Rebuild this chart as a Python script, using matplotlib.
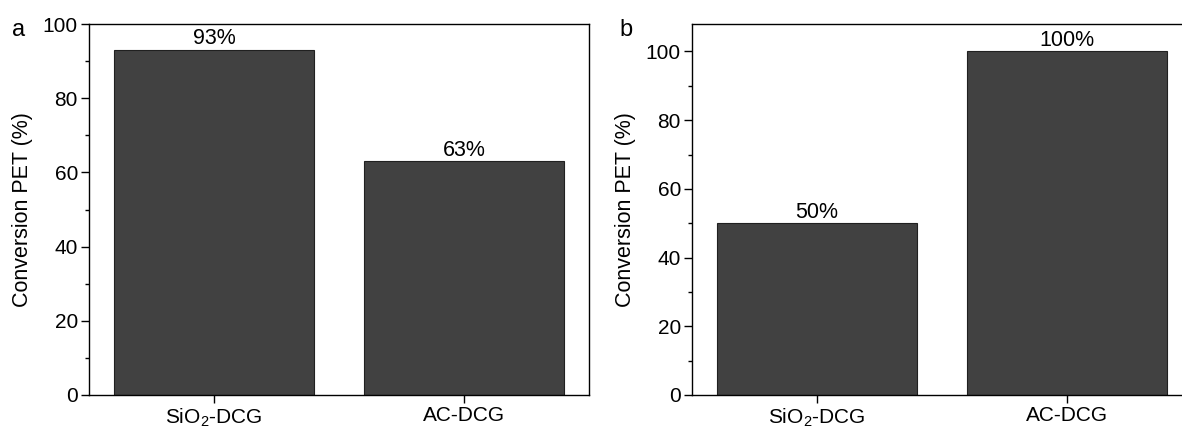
import numpy as np
import matplotlib.pyplot as plt
from matplotlib.ticker import MultipleLocator

plt.rcParams['font.family'] = ['Liberation Sans', 'DejaVu Sans']
plt.rcParams['font.size'] = 15

# data
Catalysts = [r'SiO$_\mathregular{2}$-DCG', 'AC-DCG']
ConversionA = [93, 63]
ConversionB = [50, 100]
LabelsA = ['93%', '63%']
LabelsB = ['50%', '100%']

Figure = plt.figure(figsize=(11.82, 4.28), dpi=100)
AxesA = Figure.add_axes([89/1182, 1-395/428, 500/1182, 371/428])
AxesB = Figure.add_axes([692/1182, 1-395/428, 500/1182, 371/428])

def draw_panel(Axes, Values, Labels, YMax, Letter, LetterX):
    Pos = np.arange(len(Values))
    Bars = Axes.bar(Pos, Values, width=0.8, color='#414141', edgecolor='#202020', linewidth=0.8)
    for Bar, Text in zip(Bars, Labels):
        Axes.annotate(Text, (Bar.get_x()+Bar.get_width()/2, Bar.get_height()),
                      xytext=(0, 0.5), textcoords='offset points', ha='center', va='bottom', fontsize=15.5)
    Axes.set_xlim(-0.5, 1.5)
    Axes.set_ylim(0, YMax)
    Axes.set_xticks(Pos)
    Axes.set_xticklabels(Catalysts, fontsize=15)
    Axes.yaxis.set_major_locator(MultipleLocator(20))
    Axes.yaxis.set_minor_locator(MultipleLocator(10))
    Axes.tick_params(axis='both', which='major', direction='out', length=6, width=1, labelsize=15, pad=2)
    Axes.tick_params(axis='y', which='minor', direction='out', length=3, width=1)
    Axes.tick_params(axis='x', which='minor', bottom=False)
    for Spine in Axes.spines.values():
        Spine.set_linewidth(1)
    Axes.set_ylabel('Conversion PET (%)', fontsize=15.5, labelpad=7)
    Figure.text(LetterX/1182, 1-30/428, Letter, fontsize=17, va='center', ha='center')

draw_panel(AxesA, ConversionA, LabelsA, 100, 'a', 19)
draw_panel(AxesB, ConversionB, LabelsB, 108, 'b', 626)

plt.savefig('out.png', dpi=100)
plt.close(Figure)
